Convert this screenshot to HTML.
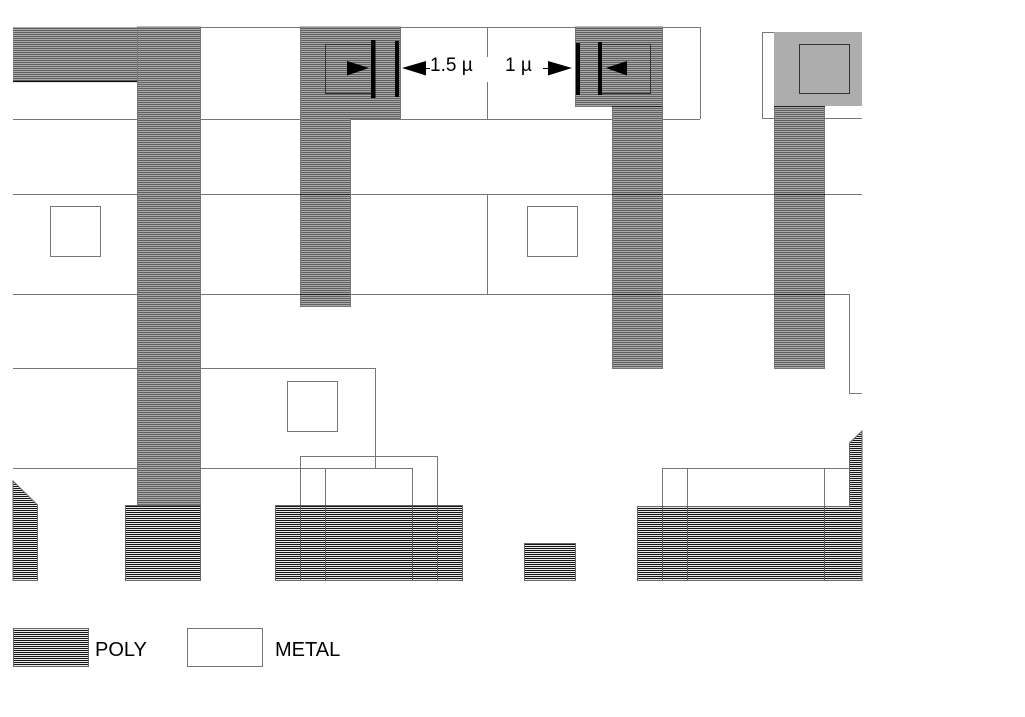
<!DOCTYPE html>
<html>
<head>
<meta charset="utf-8">
<style>
html,body{margin:0;padding:0;background:#fff;}
body{width:1025px;height:717px;overflow:hidden;}
svg{display:block;}
text{font-family:"Liberation Sans",sans-serif;fill:#000;}
</style>
</head>
<body>
<svg width="1025" height="717" viewBox="0 0 1025 717" xmlns="http://www.w3.org/2000/svg">
<defs>
<pattern id="pu" patternUnits="userSpaceOnUse" width="4" height="2">
<rect x="0" y="0" width="4" height="1" fill="#606060"/>
<rect x="0" y="1" width="4" height="1" fill="#a8a8a8"/>
</pattern>
<pattern id="pl" patternUnits="userSpaceOnUse" width="4" height="2">
<rect x="0" y="0" width="4" height="1" fill="#151515"/>
<rect x="0" y="1" width="4" height="1" fill="#e8e8e8"/>
</pattern>
</defs>
<rect width="1025" height="717" fill="#fff"/>

<!-- metal outlines -->
<g stroke="#777" stroke-width="1" fill="none">
<line x1="13" y1="27.5" x2="700" y2="27.5"/>
<line x1="700.5" y1="27" x2="700.5" y2="119"/>
<line x1="13" y1="119.5" x2="700" y2="119.5"/>
<line x1="762" y1="118.5" x2="862" y2="118.5"/>
<polyline points="862,32.5 762.5,32.5 762.5,118.5"/>
<line x1="13" y1="194.5" x2="862" y2="194.5"/>
<polyline points="13,294.5 849.5,294.5 849.5,393.5 862,393.5"/>
<line x1="487.5" y1="27" x2="487.5" y2="57"/>
<line x1="487.5" y1="82" x2="487.5" y2="119"/>
<line x1="487.5" y1="194" x2="487.5" y2="294"/>
<rect x="50.5" y="206.5" width="50" height="50"/>
<rect x="527.5" y="206.5" width="50" height="50"/>
<rect x="287.5" y="381.5" width="50" height="50"/>
<polyline points="13,368.5 375.5,368.5 375.5,468"/>
<polyline points="13,468.5 412.5,468.5 412.5,580"/>
<polyline points="325.5,580 325.5,468.5 412,468.5"/>
<polyline points="300.5,580 300.5,456.5 437.5,456.5 437.5,580"/>
<polyline points="662.5,580 662.5,468.5 849,468.5"/>
<line x1="687.5" y1="468" x2="687.5" y2="580"/>
<line x1="824.5" y1="468" x2="824.5" y2="580"/>
</g>

<!-- upper poly -->
<g fill="url(#pu)" stroke="#777" stroke-width="1">
<rect x="13" y="27" width="124" height="54" stroke="none"/>
<rect x="137.5" y="27" width="63" height="478"/>
<path d="M300.5 27 H400.5 V119.5 H350.5 V306.5 H300.5 Z"/>
<path d="M575.5 27 H662.5 V368.5 H612.5 V106.5 H575.5 Z"/>
<rect x="774.5" y="106.5" width="50" height="262"/>
</g>
<rect x="774" y="32" width="88" height="74" fill="#adadad"/>
<line x1="13" y1="81.5" x2="137" y2="81.5" stroke="#111" stroke-width="1.2"/>

<!-- dark crossings over poly -->
<g stroke="#222" stroke-width="1">
<line x1="300" y1="194.5" x2="350" y2="194.5"/>
<line x1="300" y1="294.5" x2="350" y2="294.5"/>
<line x1="612" y1="194.5" x2="662" y2="194.5"/>
<line x1="612" y1="294.5" x2="662" y2="294.5"/>
<line x1="774" y1="194.5" x2="825" y2="194.5"/>
<line x1="774" y1="294.5" x2="825" y2="294.5"/>
<line x1="612" y1="106.5" x2="662" y2="106.5"/>
<line x1="774" y1="106.5" x2="825" y2="106.5"/>
</g>

<!-- contacts -->
<g fill="none" stroke="#333" stroke-width="1">
<rect x="325.5" y="44.5" width="48" height="49"/>
<rect x="601.5" y="44.5" width="49" height="49"/>
<rect x="799.5" y="44.5" width="50" height="49"/>
</g>

<!-- lower poly -->
<g fill="url(#pl)" stroke="#666" stroke-width="1">
<rect x="125.5" y="505.5" width="75" height="75"/>
<rect x="275.5" y="505.5" width="187" height="75"/>
<rect x="524.5" y="543.5" width="51" height="37"/>
<path d="M637.5 506.5 H849.5 V443 L862 431 V580.5 H637.5 Z"/>
<path d="M13 481 L37.5 505 V580.5 H13 Z"/>
</g>
<!-- lines over lower poly -->
<g stroke="#555" stroke-width="1">
<line x1="300.5" y1="505" x2="300.5" y2="580"/>
<line x1="325.5" y1="505" x2="325.5" y2="580"/>
<line x1="412.5" y1="505" x2="412.5" y2="580"/>
<line x1="437.5" y1="505" x2="437.5" y2="580"/>
<line x1="662.5" y1="506" x2="662.5" y2="580"/>
<line x1="687.5" y1="506" x2="687.5" y2="580"/>
<line x1="824.5" y1="506" x2="824.5" y2="580"/>
</g>

<!-- dimension bars -->
<g fill="#000">
<rect x="371" y="40" width="4.5" height="58"/>
<rect x="395" y="41" width="4" height="56"/>
<rect x="576" y="43" width="4" height="52"/>
<rect x="598" y="42" width="4" height="53"/>
<!-- arrows -->
<polygon points="347,61 369,68 347,75.5"/>
<polygon points="402,68 426,61 426,75.5"/>
<polygon points="572,68 548,61 548,75.5"/>
<polygon points="606,68 627,61 627,75.5"/>
</g>
<line x1="543" y1="68.5" x2="549" y2="68.5" stroke="#000" stroke-width="1"/>
<line x1="424" y1="68.5" x2="430" y2="68.5" stroke="#000" stroke-width="1"/>

<text x="430" y="71" font-size="19">1.5 µ</text>
<text x="505" y="71" font-size="19">1 µ</text>

<!-- legend -->
<rect x="13.5" y="628.5" width="75" height="38" fill="url(#pl)" stroke="#666" stroke-width="1"/>
<text x="95" y="656" font-size="20">POLY</text>
<rect x="187.5" y="628.5" width="75" height="38" fill="#fff" stroke="#777" stroke-width="1"/>
<text x="275" y="656" font-size="20">METAL</text>
</svg>
</body>
</html>
